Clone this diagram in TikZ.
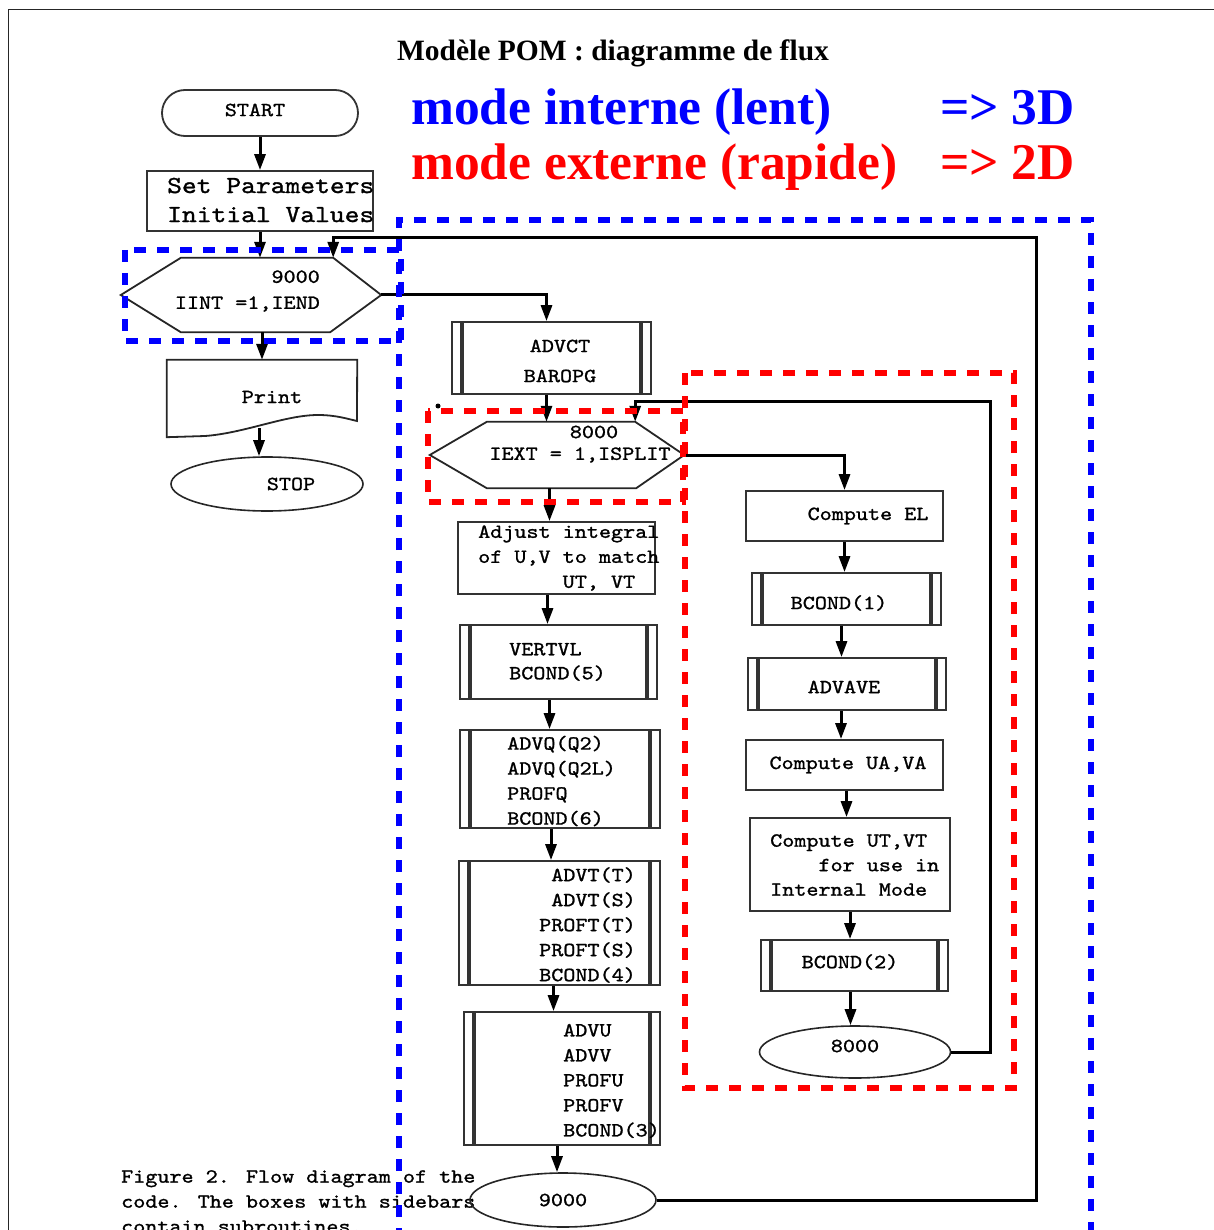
\documentclass[tikz,border=0pt]{standalone}
\usepackage{fontspec}
\usepackage{tikz}
\usetikzlibrary{arrows.meta, shapes.geometric}
\newfontfamily\titlefont{Liberation Serif}
\newfontfamily\mono[FakeStretch=1.15, FakeBold=1.2]{lmmono10-regular.otf}

\begin{document}
\begin{tikzpicture}[
      x=1pt, y=-1pt,
      box/.style={draw=black!80, line width=1.8pt, inner sep=0pt},
      sub/.style={box, path picture={
          \draw[line width=4pt]
            ([xshift=10pt]path picture bounding box.north west) -- ([xshift=10pt]path picture bounding box.south west)
            ([xshift=-10pt]path picture bounding box.north east) -- ([xshift=-10pt]path picture bounding box.south east);}},
      term/.style={ellipse, draw=black!85, line width=1.6pt, inner sep=0pt},
      shell/.style={inner sep=0pt},
      outline/.style={draw=black!85, line width=1.8pt},
      txt/.style={font=\mono\fontsize{20}{25}\selectfont, inner sep=0pt, align=left},
      mode/.style={font=\titlefont\bfseries\fontsize{51.5}{60}\selectfont, inner sep=0pt},
      arr/.style={-{Triangle[length=16pt, width=11pt]}, line width=3pt},
      bluebox/.style={blue, line width=6pt, dash pattern=on 12pt off 11pt},
      redbox/.style={red, line width=6pt, dash pattern=on 12pt off 11pt},
    ]
    \useasboundingbox (0,0) rectangle (1213,1230);
    \draw[line width=1pt, black!85] (8,1240) -- (8,10) -- (1220,10);

    \node[font=\titlefont\bfseries\fontsize{29.5}{34}\selectfont, anchor=base, inner sep=0pt] (title) at (613,61)
      {Modèle POM : diagramme de flux};
    \node[mode, blue, anchor=base west] (intm) at (411,125) {mode interne (lent)};
    \node[mode, blue, anchor=base west] (int3d) at (940,125) {=> 3D};
    \node[mode, red, anchor=base west] (extm) at (411,180) {mode externe (rapide)};
    \node[mode, red, anchor=base west] (ext2d) at (940,180) {=> 2D};

    \node[txt, anchor=north west] (caption) at (121,1170)
      {Figure 2. Flow diagram of the\\code. The boxes with sidebars\\contain subroutines.};

    \node[box, rounded corners=23pt, minimum width=196pt, minimum height=46pt] (start) at (260,113) {};
    \node[box, minimum width=226pt, minimum height=60pt] (setp) at (260,201) {};
    \node[shell, minimum width=260pt, minimum height=74pt] (hexa) at (251,295) {};
    \draw[outline] (hexa.west) -- ([xshift=60pt]hexa.north west) -- ([xshift=-48pt]hexa.north east)
      -- (hexa.east) -- ([xshift=-51pt]hexa.south east) -- ([xshift=60pt]hexa.south west) -- cycle;
    \node[shell, minimum width=190pt, minimum height=77pt] (print) at (262,398.5) {};
    \draw[outline] (357,421) .. controls (348,419) and (336,415) .. (318,415)
      .. controls (285,415) and (245,433) .. (205,436) -- (print.south west)
      -- (print.north west) -- (print.north east) -- cycle;
    \node[term, minimum width=192pt, minimum height=54pt] (stop) at (267,484) {};

    \node[sub, minimum width=199pt, minimum height=72pt] (advct) at (551.5,358) {};
    \node[shell, minimum width=254pt, minimum height=66pt] (hexb) at (557,455) {};
    \draw[outline] (hexb.west) -- ([xshift=57pt]hexb.north west) -- ([xshift=-49pt]hexb.north east)
      -- (hexb.east) -- ([xshift=-48pt]hexb.south east) -- ([xshift=57pt]hexb.south west) -- cycle;
    \node[box, minimum width=197pt, minimum height=72pt] (adjust) at (556.5,558) {};
    \node[sub, minimum width=197pt, minimum height=74pt] (vertvl) at (558.5,662) {};
    \node[sub, minimum width=200pt, minimum height=98pt] (advq) at (560,779) {};
    \node[sub, minimum width=201pt, minimum height=124pt] (advt) at (559.5,923) {};
    \node[sub, minimum width=196pt, minimum height=133pt] (advu) at (562,1078.5) {};
    \node[term, minimum width=186pt, minimum height=54pt] (end9) at (563,1200) {};

    \node[box, minimum width=197pt, minimum height=50pt] (compel) at (844.5,516) {};
    \node[sub, minimum width=189pt, minimum height=52pt] (bc1) at (846.5,599) {};
    \node[sub, minimum width=198pt, minimum height=52pt] (advave) at (847,684) {};
    \node[box, minimum width=197pt, minimum height=50pt] (compua) at (844.5,765) {};
    \node[box, minimum width=200pt, minimum height=93pt] (comput) at (850,864.5) {};
    \node[sub, minimum width=187pt, minimum height=51pt] (bc2) at (854.5,965.5) {};
    \node[term, minimum width=191pt, minimum height=52pt] (end8) at (855,1052) {};

    \node[txt] (start-t) at (255,110) {START};
    \node[txt, font=\mono\fontsize{24.5}{29}\selectfont, anchor=west] (setp-t) at (167,200)
      {Set Parameters\\Initial Values};
    \node[txt, align=right, anchor=east, font=\mono\fontsize{20}{26}\selectfont] (hexa-t) at (320,291)
      {9000\\IINT =1,IEND};
    \node[txt] (print-t) at (272,397) {Print};
    \node[txt] (stop-t) at (291,484) {STOP};
    \node[txt, align=center, font=\mono\fontsize{20}{30}\selectfont] (advct-t) at (560,361) {ADVCT\\BAROPG};
    \node[txt] (hexb-n) at (594,432) {8000};
    \node[txt] (hexb-t) at (580,455) {IEXT = 1,ISPLIT};
    \node[txt, anchor=west] (adjust-t) at (478,558) {Adjust integral\\of U,V to match\\\phantom{of U,V }UT, VT};
    \node[txt, anchor=west, font=\mono\fontsize{20}{24}\selectfont] (vertvl-t) at (509,662) {VERTVL\\BCOND(5)};
    \node[txt, anchor=west] (advq-t) at (507,781) {ADVQ(Q2)\\ADVQ(Q2L)\\PROFQ\\BCOND(6)};
    \node[txt, anchor=east, align=right] (advt-t) at (636,925) {ADVT(T)\\ADVT(S)\\PROFT(T)\\PROFT(S)\\BCOND(4)};
    \node[txt, anchor=west] (advu-t) at (563,1081) {ADVU\\ADVV\\PROFU\\PROFV\\BCOND(3)};
    \node[txt] (end9-t) at (563,1200) {9000};
    \node[txt] (compel-t) at (868,516) {Compute EL};
    \node[txt] (bc1-t) at (839,603) {BCOND(1)};
    \node[txt] (advave-t) at (844,687) {ADVAVE};
    \node[txt] (compua-t) at (848,765) {Compute UA,VA};
    \node[txt, anchor=west, font=\mono\fontsize{20}{24.5}\selectfont] (comput-t) at (770,865)
      {Compute UT,VT\\\phantom{Comp}for use in\\Internal Mode};
    \node[txt] (bc2-t) at (850,962) {BCOND(2)};
    \node[txt] (end8-t) at (855,1046) {8000};

    \draw[arr] (start) -- (setp);
    \draw[arr] (setp.south) -- (setp.south |- hexa.north);
    \draw[arr] (hexa.south -| print.north) -- (print.north);
    \draw[arr] ([xshift=-3pt, yshift=9pt]print.south) -- ([xshift=-3pt]print.south |- stop.north);
    \draw[arr] (hexa.east) -| ([xshift=-5pt]advct.north);
    \draw[arr] ([xshift=-5pt]advct.south) -- ([xshift=-5pt]advct.south |- hexb.north);
    \draw[arr] ([xshift=-7pt]adjust.north |- hexb.south) -- ([xshift=-7pt]adjust.north);
    \draw[arr] ([xshift=-9pt]adjust.south) -- ([xshift=-9pt]adjust.south |- vertvl.north);
    \draw[arr] ([xshift=-9pt]vertvl.south) -- ([xshift=-9pt]vertvl.south |- advq.north);
    \draw[arr] ([xshift=-9pt]advq.south) -- ([xshift=-9pt]advq.south |- advt.north);
    \draw[arr] ([xshift=-6pt]advt.south) -- ([xshift=-6pt]advt.south |- advu.north);
    \draw[arr] ([xshift=-5pt]advu.south) -- ([xshift=-5pt]advu.south |- end9.north);
    \draw[arr] (hexb.east) -| (compel.north);
    \draw[arr] (compel.south) -- (compel.south |- bc1.north);
    \draw[arr] ([xshift=-5pt]bc1.south) -- ([xshift=-5pt]bc1.south |- advave.north);
    \draw[arr] ([xshift=-6pt]advave.south) -- ([xshift=-6pt]advave.south |- compua.north);
    \draw[arr] ([xshift=2pt]compua.south) -- ([xshift=2pt]compua.south |- comput.north);
    \draw[arr] (comput.south) -- (comput.south |- bc2.north);
    \draw[arr] ([xshift=-4pt]bc2.south) -- ([xshift=-4pt]bc2.south |- end8.north);

    \coordinate (loopa) at (1036,238);
    \coordinate (loopb) at (990,401);
    \draw[arr] (end9.east) -| (loopa) -| ([xshift=-48pt]hexa.north east);
    \draw[arr] (end8.east) -| (loopb) -| ([xshift=-49pt]hexb.north east);
    \fill (438,406) circle[radius=2.5pt];

    \draw[bluebox] (125,250) rectangle (401,341);
    \draw[bluebox] (399,1240) -- (399,220) -- (1091,220) -- (1091,1240);
    \draw[redbox] (428,411) rectangle (683,502);
    \draw[redbox] (685,373) rectangle (1014,1088);
  \end{tikzpicture}
\end{document}
